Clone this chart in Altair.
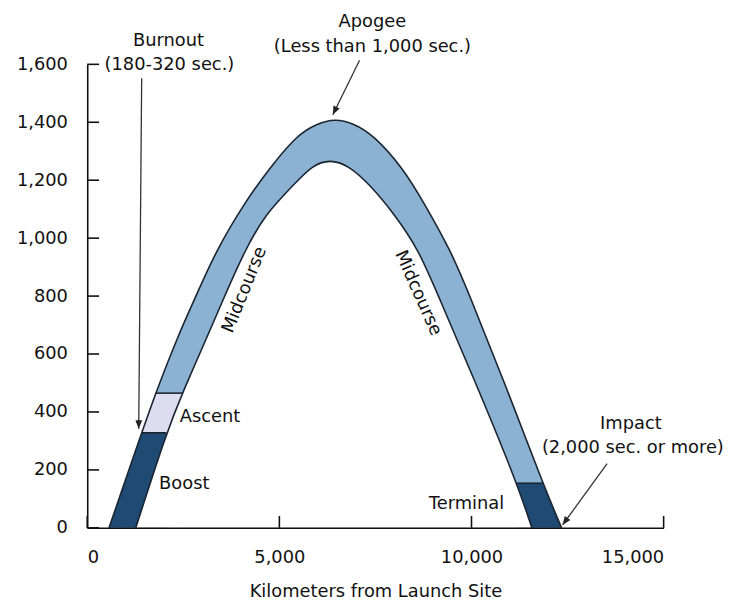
import altair as alt
import pandas as pd

# ---- trajectory band edges (km from launch site, altitude km) ----
outer_km  = [567, 1417, 1778, 2397, 2809, 3350, 4123, 4742, 5464, 5979, 6443, 6906, 7448, 8221, 8736, 9458, 9896, 10926, 11854, 12344]
outer_alt = [0,   328,  465,  674,  793,  957,  1128, 1241, 1357, 1395, 1412, 1398, 1357, 1241, 1128, 957,  821,  479,   154,   0]
inner_km  = [1263, 2062, 2474, 3170, 3530, 4097, 4639, 5386, 5850, 6314, 6803, 7345, 7989, 8633, 9071, 10179, 11184, 11571]
inner_alt = [0,    328,  465,  674,  786,  957,  1084, 1186, 1251, 1272, 1251, 1186, 1084, 957,  821,  479,   154,   0]

boost_top = 328
ascent_top = 465
terminal_top = 154

x_ticks = [0, 5000, 10000, 15000]
y_ticks = [0, 200, 400, 600, 800, 1000, 1200, 1400, 1600]

label_text = ["Burnout", "(180-320 sec.)", "Apogee", "(Less than 1,000 sec.)",
              "Impact", "(2,000 sec. or more)", "Ascent", "Boost", "Terminal"]
label_km = [2113, 2139, 7422, 7422, 14148, 14199, 3195, 2525, 9870]
label_alt = [1680, 1597, 1747, 1658, 359, 277, 383, 150, 82]

mid_text = ["Midcourse", "Midcourse"]
mid_km = [4097, 8607]
mid_alt = [821, 810]
mid_angle = [292, 66]

arrow_km0 = [1417, 7087, 13529]
arrow_alt0 = [1552, 1614, 222]
arrow_km1 = [1340, 6391, 12370]
arrow_alt1 = [342, 1426, 10]
arrow_angle = [0.5, 26, 36]

# ---- styles ----
C_MID = "#8cb2d3"
C_BOOST = "#1f4a73"
C_ASCENT = "#dedcf0"
C_EDGE = "#1b2530"
C_TEXT = "#111111"
FONT = "DejaVu Sans"
FS = 18
W, H = 582, 468

apex_km = outer_km[outer_alt.index(max(outer_alt))]


def crossing(kms, alts, level, left=True):
    for k, a in zip(kms, alts):
        if a == level and ((k < apex_km) == left):
            return k
    return None


def left_part(level):
    return [(k, a) for k, a in zip(outer_km, outer_alt) if k < apex_km and a <= level]


def right_part(level):
    return [(k, a) for k, a in zip(outer_km, outer_alt) if k > apex_km and a <= level]


outer_df = pd.DataFrame({"km": outer_km, "alt": outer_alt})
inner_df = pd.DataFrame({"km": inner_km, "alt": inner_alt})
ascent_df = pd.DataFrame(left_part(ascent_top) + [(crossing(inner_km, inner_alt, ascent_top), ascent_top)],
                         columns=["km", "alt"])
boost_df = pd.DataFrame(left_part(boost_top) + [(crossing(inner_km, inner_alt, boost_top), boost_top)],
                        columns=["km", "alt"])
term_df = pd.DataFrame([(crossing(inner_km, inner_alt, terminal_top, left=False), terminal_top)] + right_part(terminal_top),
                       columns=["km", "alt"])
bound_df = pd.DataFrame({
    "km": [crossing(outer_km, outer_alt, boost_top), crossing(outer_km, outer_alt, ascent_top),
           crossing(inner_km, inner_alt, terminal_top, left=False)],
    "km2": [crossing(inner_km, inner_alt, boost_top), crossing(inner_km, inner_alt, ascent_top),
            crossing(outer_km, outer_alt, terminal_top, left=False)],
    "alt": [boost_top, ascent_top, terminal_top],
})
label_df = pd.DataFrame({"km": label_km, "alt": label_alt, "label": label_text})
arrow_df = pd.DataFrame({"km": arrow_km0, "alt": arrow_alt0, "km2": arrow_km1, "alt2": arrow_alt1})
head_df = pd.DataFrame({"km": arrow_km1, "alt": arrow_alt1, "ang": arrow_angle})
yt_df = pd.DataFrame({"alt": y_ticks})
xt_df = pd.DataFrame({"km": x_ticks})

x_axis = alt.Axis(values=x_ticks, format=",d", grid=False, ticks=False, tickSize=0, labelPadding=21,
                  titlePadding=16, domainColor="#111111", domainWidth=1.6, zindex=1)
y_axis = alt.Axis(values=y_ticks, format=",d", grid=False, ticks=False, tickSize=0, labelPadding=20,
                  domainColor="#111111", domainWidth=1.6, zindex=1)
xs = alt.Scale(domain=[0, 15000], nice=False)
ys = alt.Scale(domain=[0, 1600], nice=False)
XT = "Kilometers from Launch Site"


def X(f="km"):
    return alt.X(f"{f}:Q", scale=xs, axis=x_axis, title=XT)


def Y(f="alt"):
    return alt.Y(f"{f}:Q", scale=ys, axis=y_axis, title=None, stack=None)


interp = "basis"

mid = alt.Chart(outer_df).mark_area(color=C_MID, interpolate=interp).encode(x=X(), y=Y())
ascent = alt.Chart(ascent_df).mark_area(color=C_ASCENT, interpolate="linear").encode(x=X(), y=Y())
boost = alt.Chart(boost_df).mark_area(color=C_BOOST, interpolate="linear").encode(x=X(), y=Y())
term = alt.Chart(term_df).mark_area(color=C_BOOST, interpolate="linear").encode(x=X(), y=Y())
hole = alt.Chart(inner_df).mark_area(color="white", interpolate=interp).encode(x=X(), y=Y())
outer_line = alt.Chart(outer_df).mark_line(color=C_EDGE, strokeWidth=1.6, interpolate=interp).encode(x=X(), y=Y())
inner_line = alt.Chart(inner_df).mark_line(color=C_EDGE, strokeWidth=1.6, interpolate=interp).encode(x=X(), y=Y())
bounds = alt.Chart(bound_df).mark_rule(color=C_EDGE, strokeWidth=1.6).encode(x=X(), x2="km2:Q", y=Y())
arrows = alt.Chart(arrow_df).mark_rule(color="#333333", strokeWidth=1.3).encode(
    x=X(), x2="km2:Q", y=Y(), y2="alt2:Q")
heads = alt.Chart(head_df).mark_point(
    shape="M0,0 L-0.4,-1 L0.4,-1 Z", filled=True, color="#222222", size=300, opacity=1
).encode(x=X(), y=Y(), angle=alt.Angle("ang:Q", scale=None))
labels = alt.Chart(label_df).mark_text(font=FONT, fontSize=FS, color=C_TEXT, align="center",
                                       baseline="middle").encode(x=X(), y=Y(), text="label:N")
mid_layers = [
    alt.Chart(pd.DataFrame({"km": [k], "alt": [a], "label": [t]})).mark_text(
        font=FONT, fontSize=FS, color=C_TEXT, align="center", baseline="middle", angle=ang
    ).encode(x=X(), y=Y(), text="label:N")
    for k, a, t, ang in zip(mid_km, mid_alt, mid_text, mid_angle)
]
ytick = alt.Chart(yt_df).mark_rule(color="#111111", strokeWidth=1.6).encode(
    y=Y(), x=alt.value(0), x2=alt.value(12))
xtick = alt.Chart(xt_df).mark_rule(color="#111111", strokeWidth=1.6).encode(
    x=X(), y=alt.value(H), y2=alt.value(H - 12))

chart = alt.layer(
    mid, ascent, boost, term, hole, outer_line, inner_line, bounds, arrows, heads, labels,
    *mid_layers, ytick, xtick
).properties(
    width=W, height=H,
    autosize=alt.AutoSizeParams(type="none"),
    padding={"left": 80, "top": 54, "right": 66, "bottom": 72},
    background="white",
).configure_view(stroke=None).configure_axis(
    labelFont=FONT, labelFontSize=FS, labelColor=C_TEXT,
    titleFont=FONT, titleFontSize=FS, titleFontWeight="normal", titleColor=C_TEXT,
)

chart.save("out.html", embed_options={"renderer": "svg", "actions": False})
